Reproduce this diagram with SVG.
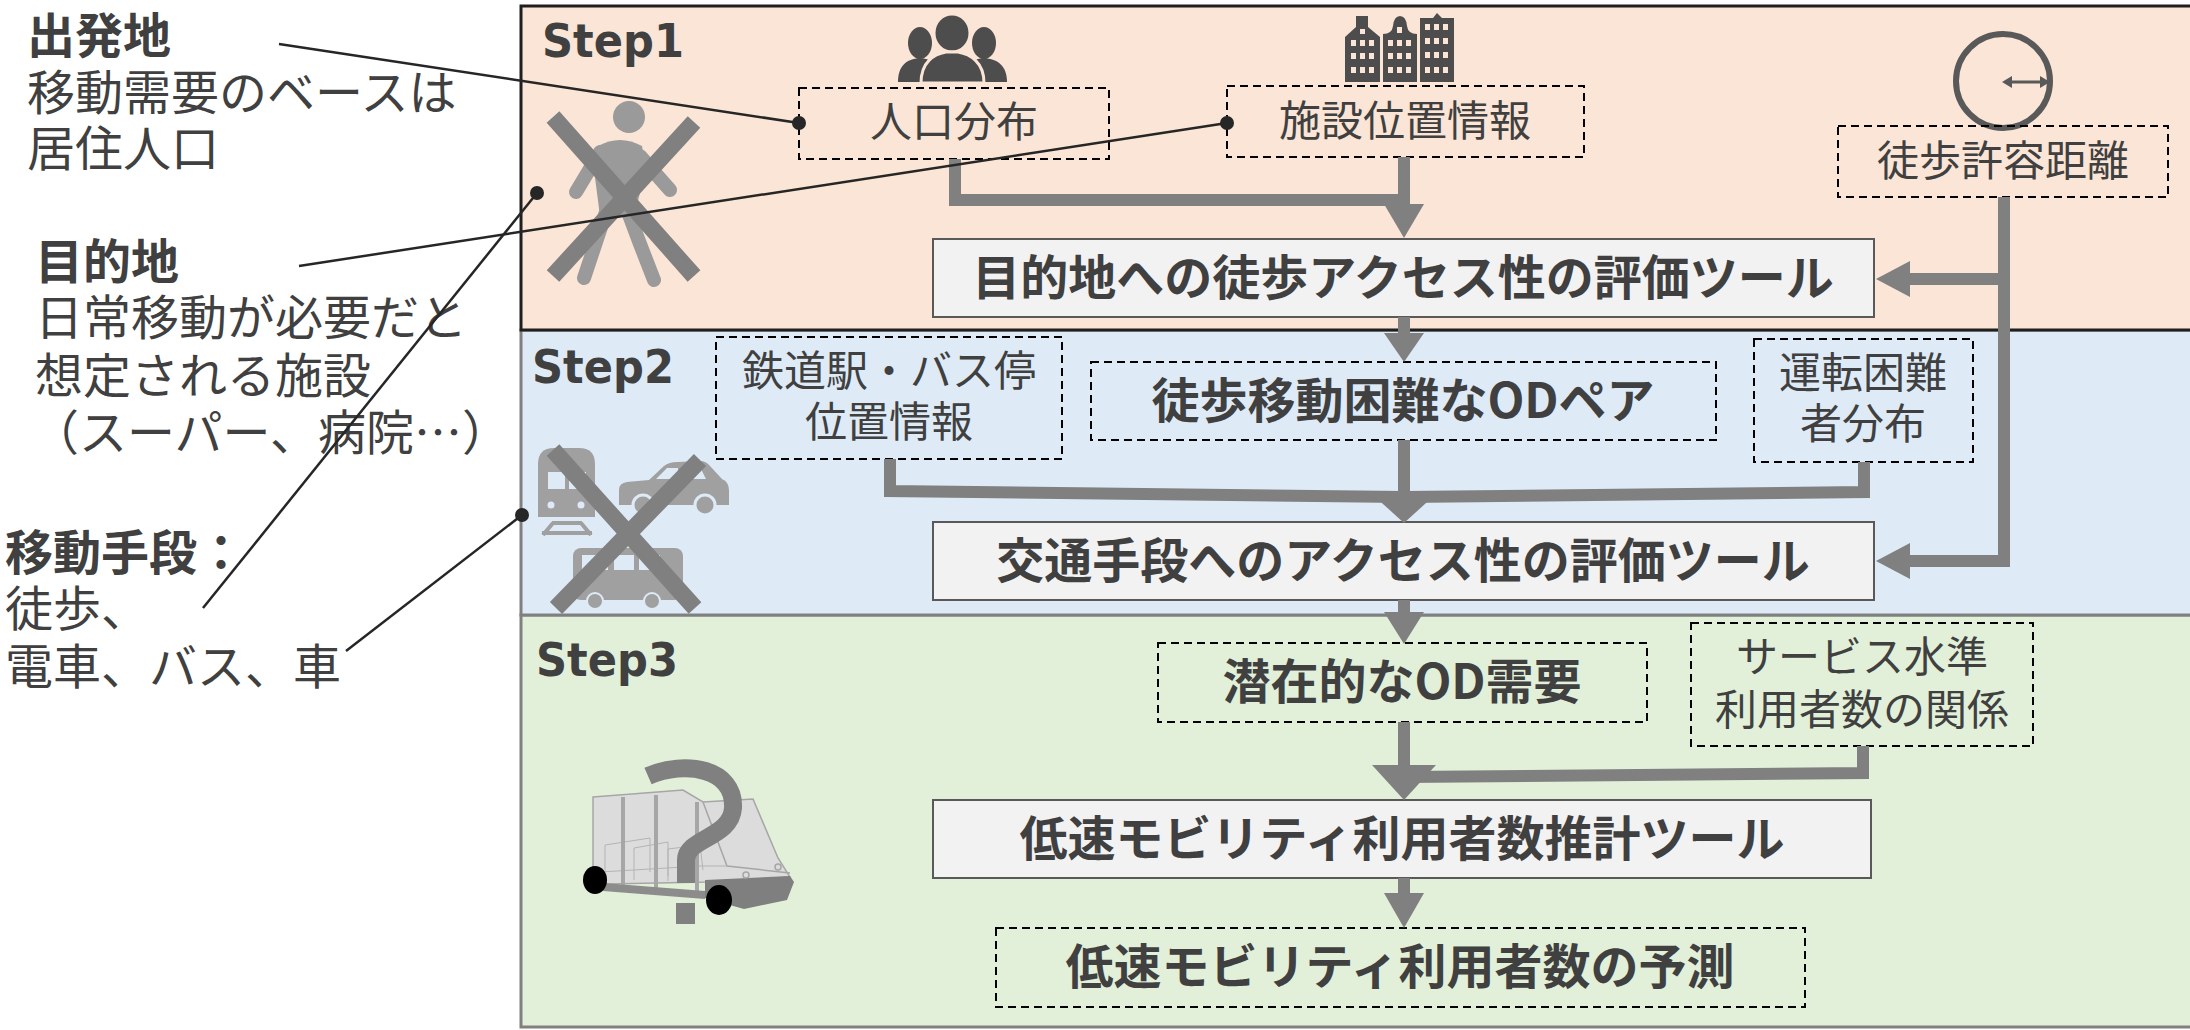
<svg xmlns="http://www.w3.org/2000/svg" width="2190" height="1030" viewBox="0 0 2190 1030">
<style>
  .jp { font-family: "Noto Sans CJK JP", "Noto Sans CJK SC", sans-serif; fill: #404040; }
  .note { font-size: 48px; }
  .b { font-weight: bold; }
  .lbl { font-size: 42px; text-anchor: middle; }
  .tool { font-size: 48px; font-weight: bold; text-anchor: middle; }
  .step { font-family: "DejaVu Sans", "Liberation Sans", sans-serif; font-weight: bold; font-size: 47px; fill: #404040; }
  .dash { fill: none; stroke: #000; stroke-width: 2; stroke-dasharray: 8 5; }
  .toolbox { fill: #F2F2F2; stroke: #595959; stroke-width: 2; }
  .flow { fill: none; stroke: #808080; stroke-width: 12; stroke-linejoin: miter; }
  .head { fill: #808080; }
  .lead { stroke: #262626; stroke-width: 2.5; fill: none; }
  .dot { fill: #262626; }
  .icon { fill: #4D4D4D; }
  .win { fill: #FBE5D6; }
  .gray { fill: #A0A0A0; }
  .cross { stroke: #808080; stroke-width: 17; }
</style>

<!-- step panels -->
<g id="panels">
  <rect id="step3" x="521" y="615" width="1690" height="412" fill="#E2F0D9" stroke="#808080" stroke-width="3"/>
  <rect id="step2" x="521" y="330" width="1690" height="285" fill="#DEEBF7" stroke="#808080" stroke-width="3"/>
  <rect id="step1" x="521" y="6" width="1690" height="324" fill="#FBE5D6" stroke="#1F1F1F" stroke-width="3"/>
  <text class="step" x="542" y="57" textLength="142" lengthAdjust="spacingAndGlyphs">Step1</text>
  <text class="step" x="532" y="383" textLength="142" lengthAdjust="spacingAndGlyphs">Step2</text>
  <text class="step" x="536" y="676" textLength="142" lengthAdjust="spacingAndGlyphs">Step3</text>
</g>

<!-- pedestrian, crossed out -->
<g id="icon-walker">
  <circle cx="629" cy="117" r="16" fill="#9A9A9A"/>
  <path d="M 598 146 Q 620 134 642 146 L 646 170 L 634 216 L 600 216 L 594 170 Z" fill="#9A9A9A"/>
  <g stroke="#9A9A9A" stroke-width="14" stroke-linecap="round" fill="none">
    <path d="M 600 152 L 576 192"/>
    <path d="M 640 156 L 670 190"/>
    <path d="M 606 212 L 584 278"/>
    <path d="M 628 212 L 640 244 L 654 280"/>
  </g>
  <line class="cross" x1="553" y1="117" x2="694" y2="276"/>
  <line class="cross" x1="694" y1="122" x2="553" y2="276"/>
</g>

<!-- population icon -->
<g id="icon-people">
  <ellipse class="icon" cx="920" cy="43" rx="12" ry="16"/>
  <path class="icon" d="M 898 82 C 898 66 906 59 920 58 C 934 59 940 66 940 82 Z"/>
  <ellipse class="icon" cx="984" cy="43" rx="12" ry="16"/>
  <path class="icon" d="M 964 82 C 964 66 970 59 984 58 C 998 59 1007 66 1007 82 Z"/>
  <ellipse class="icon" cx="952" cy="33" rx="18" ry="19" stroke="#FBE5D6" stroke-width="3"/>
  <path class="icon" d="M 921 83 C 921 62 934 54 946 52 L 958 52 C 970 54 984 62 984 83 Z" stroke="#FBE5D6" stroke-width="3"/>
</g>

<!-- facilities icon -->
<g id="icon-buildings">
  <path class="icon" d="M 1345 82 V 37 L 1356 27 V 16 H 1368 V 27 L 1380 37 V 82 Z"/>
  <path class="icon" d="M 1383 82 V 34 Q 1392 34 1393 26 Q 1394 16 1400 16 Q 1406 16 1407 26 Q 1408 34 1417 34 V 82 Z"/>
  <path class="icon" d="M 1420 82 V 18 H 1433 L 1437 13 L 1442 18 H 1454 V 82 Z"/>
  <g class="win">
    <rect x="1360" y="29" width="5" height="5"/>
    <rect x="1397" y="27" width="5" height="6"/>
    <rect x="1351" y="40" width="5" height="6"/><rect x="1360" y="40" width="5" height="6"/><rect x="1369" y="40" width="5" height="6"/>
    <rect x="1351" y="53" width="5" height="6"/><rect x="1360" y="53" width="5" height="6"/><rect x="1369" y="53" width="5" height="6"/>
    <rect x="1351" y="67" width="5" height="6"/><rect x="1360" y="67" width="5" height="6"/><rect x="1369" y="67" width="5" height="6"/>
    <rect x="1388" y="40" width="5" height="6"/><rect x="1397" y="40" width="5" height="6"/><rect x="1406" y="40" width="5" height="6"/>
    <rect x="1388" y="53" width="5" height="6"/><rect x="1397" y="53" width="5" height="6"/><rect x="1406" y="53" width="5" height="6"/>
    <rect x="1388" y="67" width="5" height="6"/><rect x="1397" y="67" width="5" height="6"/><rect x="1406" y="67" width="5" height="6"/>
    <rect x="1425" y="24" width="5" height="6"/><rect x="1434" y="24" width="5" height="6"/><rect x="1443" y="24" width="5" height="6"/>
    <rect x="1425" y="38" width="5" height="6"/><rect x="1434" y="38" width="5" height="6"/><rect x="1443" y="38" width="5" height="6"/>
    <rect x="1425" y="52" width="5" height="6"/><rect x="1434" y="52" width="5" height="6"/><rect x="1443" y="52" width="5" height="6"/>
    <rect x="1425" y="67" width="5" height="6"/><rect x="1434" y="67" width="5" height="6"/><rect x="1443" y="67" width="5" height="6"/>
  </g>
</g>

<!-- walking radius icon -->
<g id="icon-radius">
  <circle cx="2003" cy="81" r="47" fill="none" stroke="#595959" stroke-width="6"/>
  <line x1="2010" y1="82" x2="2042" y2="82" stroke="#595959" stroke-width="3"/>
  <polygon points="2002,82 2012,76 2012,88" fill="#595959"/>
  <polygon points="2050,82 2040,76 2040,88" fill="#595959"/>
</g>

<!-- train, car, bus, crossed out -->
<g id="icon-transport">
  <path class="gray" d="M 538 517 V 464 Q 538 448 554 448 H 579 Q 595 448 595 464 V 517 Z"/>
  <rect x="548" y="472" width="17" height="17" fill="#DEEBF7"/>
  <rect x="569" y="472" width="17" height="17" fill="#DEEBF7"/>
  <circle cx="551" cy="505" r="3.5" fill="#DEEBF7"/>
  <circle cx="581" cy="505" r="3.5" fill="#DEEBF7"/>
  <path d="M 552 523 H 582 M 542 533 H 592 M 553 523 L 543 535 M 581 523 L 591 535" stroke="#A0A0A0" stroke-width="4" fill="none"/>
  <path class="gray" d="M 619 505 V 490 Q 619 483 627 482 L 649 480 L 664 466 Q 669 462 677 462 L 700 461 Q 706 461 710 466 L 722 479 Q 729 482 729 490 V 505 Z"/>
  <path d="M 656 479 L 667 468 H 678 V 479 Z M 683 479 V 467 H 700 L 706 479 Z" fill="#DEEBF7"/>
  <circle class="gray" cx="643" cy="505" r="10" stroke="#DEEBF7" stroke-width="3"/>
  <circle class="gray" cx="705" cy="505" r="10" stroke="#DEEBF7" stroke-width="3"/>
  <rect class="gray" x="573" y="548" width="110" height="52" rx="8"/>
  <rect x="582" y="555" width="26" height="15" fill="#DEEBF7"/>
  <rect x="614" y="555" width="20" height="15" fill="#DEEBF7"/>
  <rect x="639" y="555" width="21" height="15" fill="#DEEBF7"/>
  <circle class="gray" cx="595" cy="601" r="8" stroke="#DEEBF7" stroke-width="2"/>
  <circle class="gray" cx="652" cy="601" r="8" stroke="#DEEBF7" stroke-width="2"/>
  <line class="cross" x1="553" y1="450" x2="695" y2="608" stroke-width="15"/>
  <line class="cross" x1="700" y1="460" x2="556" y2="608" stroke-width="15"/>
</g>

<!-- low speed vehicle with question mark -->
<g id="icon-vehicle">
  <polygon points="593,797 683,790 703,802 753,799 778,858 790,877 707,882 607,884 593,868" fill="#DCDCDC" stroke="#A6A6A6" stroke-width="1.5"/>
  <polyline points="703,802 727,866 790,873" fill="none" stroke="#A6A6A6" stroke-width="1.5"/>
  <g fill="none" stroke="#B4B4B4" stroke-width="1">
    <polyline points="605,878 605,845 650,838 650,872"/>
    <polyline points="634,880 634,848 668,842 668,876"/>
    <polyline points="668,881 668,849 700,845 703,870"/>
    <polyline points="600,872 700,866 727,866"/>
  </g>
  <g stroke="#A6A6A6" stroke-width="4">
    <line x1="623" y1="797" x2="623" y2="888"/>
    <line x1="656" y1="795" x2="656" y2="891"/>
    <line x1="697" y1="802" x2="697" y2="893"/>
  </g>
  <polygon points="603,883 705,891 705,899 603,891" fill="#8C8C8C"/>
  <polygon points="705,880 790,876 794,882 787,900 744,909 705,898" fill="#7F7F7F"/>
  <circle cx="746" cy="875" r="3" fill="none" stroke="#A6A6A6" stroke-width="1.5"/>
  <circle cx="778" cy="867" r="3" fill="none" stroke="#A6A6A6" stroke-width="1.5"/>
  <path d="M 648 776 C 685 760 735 768 733 808 C 731 838 686 838 686 860 V 883" fill="none" stroke="#808080" stroke-width="18"/>
  <rect x="676" y="903" width="19" height="21" fill="#808080"/>
  <ellipse cx="595" cy="880" rx="12" ry="14" fill="#000"/>
  <ellipse cx="719" cy="900" rx="13" ry="15" fill="#000"/>
</g>

<!-- notes on the left -->
<g id="note-origin">
  <text class="jp note">
    <tspan class="b" x="27" y="32" dominant-baseline="central">出発地</tspan>
    <tspan x="27" y="89" dominant-baseline="central">移動需要のベースは</tspan>
    <tspan x="27" y="145" dominant-baseline="central">居住人口</tspan>
  </text>
</g>
<g id="note-destination">
  <text class="jp note">
    <tspan class="b" x="35" y="258" dominant-baseline="central">目的地</tspan>
    <tspan x="35" y="314" dominant-baseline="central">日常移動が必要だと</tspan>
    <tspan x="35" y="372" dominant-baseline="central">想定される施設</tspan>
    <tspan x="31" y="429" dominant-baseline="central">（スーパー、病院…）</tspan>
  </text>
</g>
<g id="note-mode">
  <text class="jp note">
    <tspan class="b" x="5" y="549" dominant-baseline="central">移動手段：</tspan>
    <tspan x="5" y="605" dominant-baseline="central">徒歩、</tspan>
    <tspan x="5" y="663" dominant-baseline="central">電車、バス、車</tspan>
  </text>
</g>

<!-- input / output data (dashed) -->
<g id="n-population"><rect class="dash" x="799" y="88" width="310" height="71"/><text class="jp lbl" x="954" y="118" dominant-baseline="central">人口分布</text></g>
<g id="n-facility"><rect class="dash" x="1227" y="86" width="357" height="71"/><text class="jp lbl" x="1405" y="117" dominant-baseline="central">施設位置情報</text></g>
<g id="n-walkdist"><rect class="dash" x="1838" y="126" width="330" height="71"/><text class="jp lbl" x="2003" y="157" dominant-baseline="central">徒歩許容距離</text></g>
<g id="n-station"><rect class="dash" x="716" y="337" width="346" height="122"/><text class="jp lbl"><tspan x="889" y="367" dominant-baseline="central">鉄道駅・バス停</tspan><tspan x="889" y="418" dominant-baseline="central">位置情報</tspan></text></g>
<g id="n-odpair"><rect class="dash" x="1091" y="362" width="625" height="78"/><text class="jp tool" x="1403" y="397" dominant-baseline="central">徒歩移動困難なODペア</text></g>
<g id="n-driver"><rect class="dash" x="1754" y="339" width="219" height="123"/><text class="jp lbl"><tspan x="1863" y="369" dominant-baseline="central">運転困難</tspan><tspan x="1863" y="420" dominant-baseline="central">者分布</tspan></text></g>
<g id="n-oddemand"><rect class="dash" x="1158" y="643" width="489" height="79"/><text class="jp tool" x="1402" y="678" dominant-baseline="central">潜在的なOD需要</text></g>
<g id="n-service"><rect class="dash" x="1691" y="623" width="342" height="123"/><text class="jp lbl"><tspan x="1862" y="653" dominant-baseline="central">サービス水準</tspan><tspan x="1862" y="706" dominant-baseline="central">利用者数の関係</tspan></text></g>
<g id="n-forecast"><rect class="dash" x="996" y="928" width="809" height="79"/><text class="jp tool" x="1400" y="963" dominant-baseline="central">低速モビリティ利用者数の予測</text></g>

<!-- tools -->
<g id="t-walk"><rect class="toolbox" x="933" y="239" width="941" height="78"/><text class="jp tool" x="1403" y="274" dominant-baseline="central">目的地への徒歩アクセス性の評価ツール</text></g>
<g id="t-transit"><rect class="toolbox" x="933" y="522" width="941" height="78"/><text class="jp tool" x="1403" y="557" dominant-baseline="central">交通手段へのアクセス性の評価ツール</text></g>
<g id="t-users"><rect class="toolbox" x="933" y="800" width="938" height="78"/><text class="jp tool" x="1402" y="835" dominant-baseline="central">低速モビリティ利用者数推計ツール</text></g>

<!-- flow connectors -->
<g id="connectors">
  <polyline class="flow" points="955,159 955,200 1410,200"/>
  <line class="flow" x1="1404" y1="157" x2="1404" y2="206"/>
  <polygon class="head" points="1384,204 1424,204 1404,238"/>
  <polyline class="flow" points="2004,197 2004,561 1908,561"/>
  <line class="flow" x1="2004" y1="279" x2="1908" y2="279"/>
  <polygon class="head" points="1910,261 1910,297 1876,279"/>
  <polygon class="head" points="1910,543 1910,579 1876,561"/>
  <line class="flow" x1="1404" y1="317" x2="1404" y2="336"/>
  <polygon class="head" points="1384,333 1424,333 1404,362"/>
  <polyline class="flow" points="890,459 890,491 1404,497"/>
  <polyline class="flow" points="1864,462 1864,492 1404,497"/>
  <line class="flow" x1="1404" y1="440" x2="1404" y2="500"/>
  <polygon class="head" points="1372,494 1436,494 1404,523"/>
  <line class="flow" x1="1404" y1="600" x2="1404" y2="616"/>
  <polygon class="head" points="1384,612 1424,612 1404,644"/>
  <line class="flow" x1="1404" y1="722" x2="1404" y2="768"/>
  <polyline class="flow" points="1863,746 1863,773 1404,777"/>
  <polygon class="head" points="1372,765 1436,765 1404,800"/>
  <line class="flow" x1="1404" y1="878" x2="1404" y2="896"/>
  <polygon class="head" points="1384,893 1424,893 1404,928"/>
</g>

<!-- leader lines from the notes -->
<g id="leaders">
  <line class="lead" x1="279" y1="44" x2="799" y2="123"/>
  <circle class="dot" cx="799" cy="123" r="7"/>
  <line class="lead" x1="299" y1="266" x2="1227" y2="123"/>
  <circle class="dot" cx="1227" cy="123" r="7"/>
  <line class="lead" x1="203" y1="608" x2="537" y2="193"/>
  <circle class="dot" cx="537" cy="193" r="7"/>
  <line class="lead" x1="346" y1="651" x2="522" y2="515"/>
  <circle class="dot" cx="522" cy="515" r="7"/>
</g>
</svg>
